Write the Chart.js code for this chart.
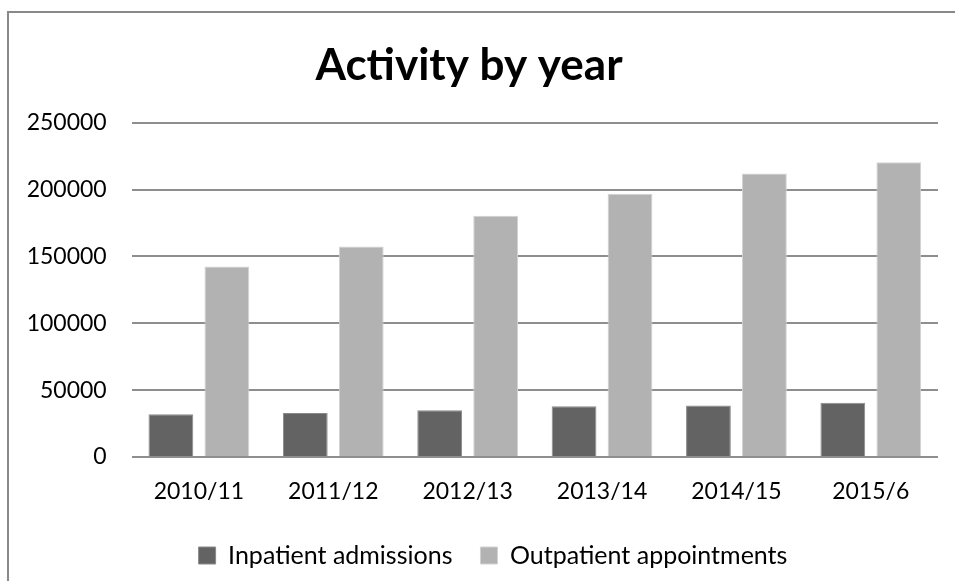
<!DOCTYPE html>
<html lang="en">
<head>
    <meta charset="UTF-8">
    <title>Activity by year</title>
    <script src="https://cdn.jsdelivr.net/npm/chart.js"></script>
    <style>
        html, body { margin: 0; padding: 0; background: #fff; overflow: hidden; }
        #frame {
            position: absolute; left: 7px; top: 11px; width: 950px; height: 575px;
            border-left: 2px solid #898989; border-top: 2px solid #898989;
        }
        #activityChart { position: absolute; left: 0; top: 0; }
    </style>
</head>
<body>
    <div id="frame"></div>
    <canvas id="activityChart" width="955" height="581"></canvas>

    <script>
        // Data
        const years = ['2010/11', '2011/12', '2012/13', '2013/14', '2014/15', '2015/6'];
        const inpatientAdmissions = [32000, 33000, 35000, 38000, 38500, 40500];
        const outpatientAppointments = [142500, 157500, 180500, 197000, 212000, 220500];
        const yMax = 250000;
        const yStep = 50000;

        const fontFamily = 'Lato, "Open Sans", sans-serif';

        // legend sits a little right of the plot centre in the original
        const legendShift = {
            id: 'legendShift',
            afterLayout(chart) {
                chart.legend.left += 24;
                chart.legend.right += 24;
            }
        };

        const ctx = document.getElementById('activityChart').getContext('2d');
        const activityChart = new Chart(ctx, {
            type: 'bar',
            data: {
                labels: years,
                datasets: [{
                    label: 'Inpatient admissions',
                    data: inpatientAdmissions,
                    backgroundColor: '#636363',
                    borderColor: '#8a8a8a',
                    borderWidth: 1
                }, {
                    label: 'Outpatient appointments',
                    data: outpatientAppointments,
                    backgroundColor: '#b2b2b2',
                    borderColor: '#d2d2d2',
                    borderWidth: 1
                }]
            },
            options: {
                responsive: false,
                animation: false,
                categoryPercentage: 0.833,
                barPercentage: 0.8,
                layout: {
                    padding: { top: 14, left: 0, right: 17, bottom: 3 }
                },
                plugins: {
                    title: {
                        display: true,
                        text: 'Activity by year',
                        color: '#000',
                        font: { family: fontFamily, size: 44, weight: 'bold' },
                        padding: { top: 25, bottom: 31 }
                    },
                    legend: {
                        position: 'bottom',
                        labels: {
                            color: '#000',
                            font: { family: fontFamily, size: 25 },
                            boxWidth: 17,
                            boxHeight: 17,
                            padding: 28
                        }
                    },
                    tooltip: { enabled: false }
                },
                scales: {
                    x: {
                        grid: { display: false, drawTicks: false },
                        border: { display: false },
                        ticks: {
                            color: '#000',
                            font: { family: fontFamily, size: 23 },
                            padding: 21,
                            maxRotation: 0
                        },
                        afterFit: (scale) => { scale.height = 58; }
                    },
                    y: {
                        min: 0,
                        max: yMax,
                        grid: { color: '#8e8e8e', lineWidth: 2, drawTicks: false },
                        border: { display: false },
                        ticks: {
                            stepSize: yStep,
                            color: '#000',
                            font: { family: fontFamily, size: 23 },
                            padding: 25,
                            callback: (value) => String(value)
                        },
                        afterFit: (scale) => { scale.width = 131.7; }
                    }
                }
            },
            plugins: [legendShift]
        });
    </script>
</body>
</html>
